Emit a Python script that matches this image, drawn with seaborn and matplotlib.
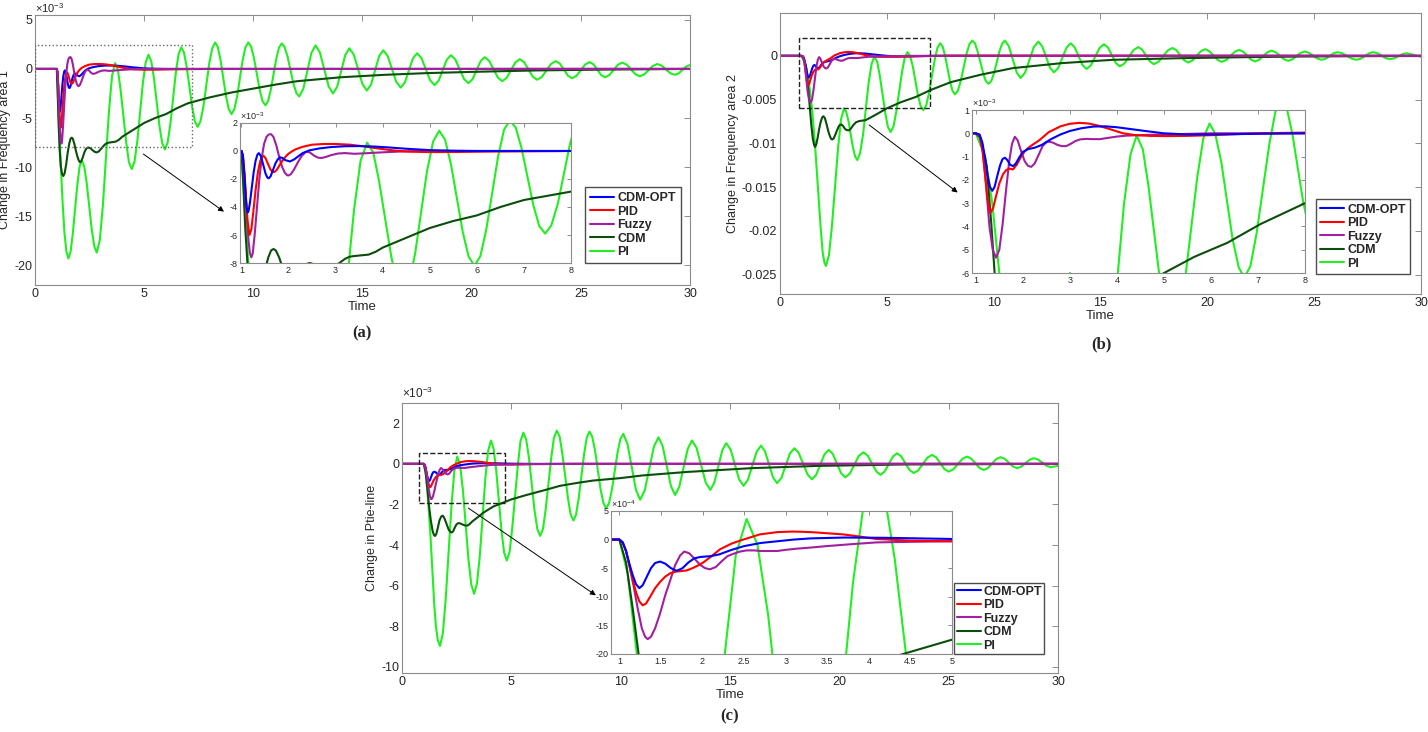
import matplotlib
matplotlib.use("Agg")
import matplotlib.pyplot as plt
from matplotlib.patches import Rectangle
from matplotlib.ticker import FuncFormatter
import seaborn as sns

# legend order
names = ['CDM-OPT', 'PID', 'Fuzzy', 'CDM', 'PI']

# ---------------- (a) change in frequency, area 1  (units 1e-3) ----------------
a_cdmopt_t = [0, 1.0, 1.03, 1.06, 1.09, 1.11, 1.13, 1.15, 1.18, 1.22, 1.26, 1.3, 1.34, 1.37, 1.41, 1.46, 1.51, 1.55, 1.58, 1.62,
              1.67, 1.72, 1.77, 1.82, 1.87, 1.93, 2.03, 2.12, 2.2, 2.3, 2.45, 2.65, 2.9, 3.2, 3.5, 3.8, 4.1, 4.5, 5.0, 5.5,
              6.0, 8.0, 30]
a_cdmopt_v = [0, 0, -0.3, -1.6, -3.2, -4.0, -4.4, -4.3, -3.7, -2.6, -1.5, -0.7, -0.25, -0.15, -0.35, -0.95, -1.6, -1.9, -1.95, -1.8,
              -1.35, -0.9, -0.6, -0.45, -0.5, -0.65, -0.75, -0.6, -0.4, -0.15, 0.05, 0.18, 0.28, 0.34, 0.35, 0.32, 0.26, 0.16, 0.06, 0.02,
              0, 0, 0]
a_pid_t = [0, 1.0, 1.03, 1.07, 1.1, 1.13, 1.17, 1.21, 1.25, 1.3, 1.35, 1.4, 1.44, 1.47, 1.51, 1.56, 1.62, 1.67, 1.7, 1.75,
           1.82, 1.9, 1.98, 2.06, 2.15, 2.3, 2.5, 2.75, 3.0, 3.3, 3.6, 3.9, 4.2, 4.5, 5.0, 5.6, 6.3, 8.0, 30]
a_pid_v = [0, 0, -0.3, -1.8, -3.6, -5.0, -6.0, -5.6, -4.4, -2.8, -1.5, -0.7, -0.4, -0.35, -0.5, -0.9, -1.35, -1.5, -1.5, -1.35,
           -0.95, -0.55, -0.25, -0.05, 0.12, 0.3, 0.45, 0.5, 0.5, 0.45, 0.33, 0.18, 0.05, -0.04, -0.08, -0.07, -0.04, 0, 0]
a_fuzzy_t = [0, 1.0, 1.03, 1.07, 1.11, 1.15, 1.18, 1.21, 1.24, 1.28, 1.33, 1.38, 1.43, 1.48, 1.53, 1.58, 1.63, 1.68, 1.74, 1.8,
             1.86, 1.92, 1.97, 2.0, 2.05, 2.12, 2.2, 2.28, 2.37, 2.45, 2.55, 2.63, 2.7, 2.8, 2.9, 3.05, 3.2, 3.4, 3.6, 3.8,
             4.1, 4.5, 5.0, 30]
a_fuzzy_v = [0, 0, -0.4, -2.2, -4.5, -6.4, -7.3, -7.6, -7.3, -6.0, -4.0, -2.0, -0.5, 0.5, 1.0, 1.18, 1.2, 1.0, 0.4, -0.4,
             -1.1, -1.55, -1.73, -1.75, -1.65, -1.3, -0.8, -0.35, -0.05, -0.1, -0.35, -0.48, -0.5, -0.42, -0.3, -0.18, -0.15, -0.2, -0.17, -0.13,
             -0.08, -0.02, 0, 0]
a_cdm_t = [0, 1.0, 1.04, 1.08, 1.13, 1.18, 1.24, 1.3, 1.36, 1.43, 1.5, 1.57, 1.63, 1.68, 1.73, 1.8, 1.87, 1.94, 2.0, 2.06,
           2.12, 2.19, 2.26, 2.35, 2.45, 2.55, 2.65, 2.74, 2.83, 2.92, 3.0, 3.1, 3.2, 3.3, 3.4, 3.55, 3.7, 3.85, 4.0, 4.25,
           4.5, 5.0, 5.5, 6.0, 6.5, 7.0, 7.5, 8.0, 9.0, 10.0, 11.0, 12.0, 14.0, 16.0, 18.0, 20.0, 23.0, 26.0, 30]
a_cdm_v = [0, 0, -2.5, -5.5, -8.2, -9.9, -10.7, -10.9, -10.6, -9.7, -8.5, -7.6, -7.1, -7.0, -7.1, -7.6, -8.3, -8.9, -9.3, -9.5,
           -9.4, -9.0, -8.5, -8.1, -8.0, -8.1, -8.3, -8.45, -8.5, -8.4, -8.2, -7.95, -7.7, -7.55, -7.5, -7.45, -7.4, -7.2, -6.9, -6.55,
           -6.2, -5.5, -5.0, -4.6, -4.0, -3.5, -3.2, -2.9, -2.4, -2.0, -1.6, -1.25, -0.85, -0.6, -0.42, -0.3, -0.15, -0.07, 0]
a_pi_t = [0, 1.0, 1.09, 1.18, 1.265, 1.35, 1.44, 1.53,
          1.63, 1.73, 1.835, 1.94, 2.04, 2.14,
          2.255, 2.37, 2.485, 2.6, 2.715, 2.83,
          2.97, 3.11, 3.25, 3.39, 3.53, 3.67,
          3.80, 3.92, 4.05, 4.18, 4.30, 4.43,
          4.56, 4.69, 4.815, 4.94, 5.07, 5.2,
          5.325, 5.45, 5.575, 5.7, 5.825, 5.95,
          6.075, 6.2, 6.325, 6.45, 6.575, 6.7,
          6.825, 6.95, 7.075, 7.2, 7.325, 7.45,
          7.58, 7.72, 7.85, 7.98, 8.12, 8.25,
          8.375, 8.5, 8.625, 8.75, 8.875, 9.0,
          9.13, 9.26, 9.385, 9.51, 9.64, 9.77,
          9.9, 10.03, 10.16, 10.29, 10.42, 10.55,
          10.675, 10.8, 10.925, 11.05, 11.175, 11.3,
          11.43, 11.57, 11.7, 11.83, 11.97, 12.1,
          12.29, 12.66, 12.85, 13.05, 13.45, 13.65, 13.84, 14.21, 14.4, 14.6, 15.0, 15.2,
          15.39, 15.76, 15.95, 16.15, 16.55, 16.75, 16.94, 17.31, 17.5, 17.7, 18.1, 18.3,
          18.49, 18.86, 19.05, 19.25, 19.65, 19.85, 20.04, 20.41, 20.6, 20.8, 21.2, 21.4,
          21.6, 22.0, 22.2, 22.4, 22.8, 23.0, 23.21, 23.64, 23.85, 24.04, 24.41, 24.6,
          24.8, 25.2, 25.4, 25.58, 25.93, 26.1, 26.3, 26.7, 26.9, 27.1, 27.5, 27.7,
          27.9, 28.3, 28.5, 28.7, 29.1, 29.3, 29.48, 29.83, 30.0]
a_pi_v = [0, 0, -5.0, -9.65, -13.6, -16.7, -18.6, -19.3,
          -18.63, -16.8, -14.3, -11.8, -9.97, -9.3,
          -9.93, -11.65, -14.0, -16.35, -18.07, -18.7,
          -17.41, -13.88, -9.05, -4.23, -0.69, 0.6,
          -0.12, -2.1, -4.8, -7.5, -9.48, -10.2,
          -9.42, -7.29, -4.38, -1.46, 0.67, 1.45,
          0.80, -0.96, -3.38, -5.79, -7.55, -8.2,
          -7.5, -5.6, -3.0, -0.4, 1.5, 2.2,
          1.66, 0.18, -1.85, -3.88, -5.36, -5.9,
          -5.32, -3.75, -1.6, 0.55, 2.12, 2.7,
          2.21, 0.88, -0.95, -2.78, -4.11, -4.6,
          -4.11, -2.78, -0.95, 0.88, 2.21, 2.7,
          2.27, 1.1, -0.5, -2.1, -3.27, -3.7,
          -3.28, -2.13, -0.55, 1.03, 2.18, 2.6,
          2.24, 1.25, -0.1, -1.45, -2.44, -2.8,
          -2.02, 1.62, 2.4, 1.67, -1.77, -2.5, -1.81, 1.41, 2.1, 1.46, -1.56, -2.2,
          -1.59, 1.29, 1.9, 1.33, -1.33, -1.9, -1.38, 1.08, 1.6, 1.11, -1.16, -1.65,
          -1.19, 0.94, 1.4, 0.97, -1.02, -1.45, -1.05, 0.8, 1.2, 0.83, -0.88, -1.25,
          -0.91, 0.66, 1.0, 0.69, -0.79, -1.1, -0.82, 0.52, 0.8, 0.54, -0.69, -0.95,
          -0.7, 0.45, 0.7, 0.47, -0.62, -0.85, -0.63, 0.43, 0.65, 0.44, -0.54, -0.75,
          -0.56, 0.31, 0.5, 0.34, -0.44, -0.6, -0.45, 0.25, 0.4]

# ---------------- (b) change in frequency, area 2  (units 1e-3) ----------------
b_cdmopt_t = [0, 1.0, 1.08, 1.14, 1.2, 1.25, 1.3, 1.35, 1.4, 1.46, 1.52, 1.57, 1.62, 1.67, 1.73, 1.79, 1.85, 1.92, 2.0, 2.11,
              2.25, 2.4, 2.6, 2.8, 3.0, 3.25, 3.5, 3.75, 4.0, 4.3, 4.6, 5.0, 5.5, 6.0, 7.0, 8.0, 30]
b_cdmopt_v = [0, 0, -0.05, -0.4, -1.1, -1.8, -2.3, -2.47, -2.3, -1.8, -1.35, -1.1, -1.05, -1.15, -1.35, -1.41, -1.3, -1.05, -0.8, -0.68,
              -0.62, -0.5, -0.25, -0.05, 0.1, 0.22, 0.29, 0.3, 0.26, 0.18, 0.1, 0.0, -0.05, -0.05, -0.02, 0, 0]
b_pid_t = [0, 1.0, 1.08, 1.14, 1.2, 1.25, 1.31, 1.37, 1.43, 1.5, 1.58, 1.65, 1.72, 1.79, 1.87, 1.95, 2.03, 2.1, 2.2, 2.35,
           2.55, 2.8, 3.0, 3.2, 3.4, 3.6, 3.85, 4.13, 4.4, 4.7, 5.05, 5.5, 6.0, 7.0, 8.0, 30]
b_pid_v = [0, 0, -0.1, -0.7, -1.8, -2.8, -3.42, -3.2, -2.7, -2.15, -1.75, -1.57, -1.52, -1.55, -1.35, -1.05, -0.8, -0.65, -0.5, -0.3,
           0.05, 0.3, 0.41, 0.45, 0.42, 0.33, 0.18, 0.0, -0.08, -0.11, -0.12, -0.11, -0.08, 0.0, 0.03, 0]
b_fuzzy_t = [0, 1.0, 1.08, 1.15, 1.22, 1.29, 1.36, 1.43, 1.5, 1.57, 1.64, 1.71, 1.77, 1.83, 1.89, 1.96, 2.04, 2.11, 2.18, 2.25,
             2.33, 2.42, 2.5, 2.56, 2.64, 2.74, 2.83, 2.92, 3.02, 3.12, 3.22, 3.35, 3.5, 3.64, 3.8, 4.0, 4.2, 4.6, 5.0, 6.0, 30]
b_fuzzy_v = [0, 0, -0.1, -0.8, -2.3, -4.0, -5.0, -5.34, -5.0, -3.9, -2.5, -1.2, -0.45, -0.15, -0.3, -0.75, -1.2, -1.4, -1.44, -1.3,
             -0.95, -0.55, -0.38, -0.36, -0.4, -0.5, -0.55, -0.55, -0.45, -0.33, -0.26, -0.24, -0.25, -0.25, -0.2, -0.14, -0.1, -0.07, -0.05, 0, 0]
b_cdm_t = [0, 1.0, 1.1, 1.23, 1.33, 1.4, 1.47, 1.54, 1.6, 1.64, 1.69, 1.76, 1.83, 1.9, 1.97, 2.03, 2.1, 2.18, 2.26, 2.34,
           2.4, 2.45, 2.51, 2.59, 2.67, 2.75, 2.82, 2.88, 2.95, 3.03, 3.1, 3.17, 3.24, 3.32, 3.42, 3.55, 3.7, 3.85, 4.0, 4.2,
           4.5, 5.0, 5.65, 6.35, 7.05, 8.0, 9.4, 10.9, 13.2, 15.6, 18.7, 21.8, 24.3, 27.0, 30]
b_cdm_v = [0, 0, -0.2, -1.4, -3.9, -6.0, -8.0, -9.5, -10.2, -10.4, -10.2, -9.4, -8.4, -7.6, -7.05, -6.9, -7.1, -7.8, -8.6, -9.2,
           -9.5, -9.55, -9.45, -9.0, -8.5, -8.05, -7.85, -7.85, -8.0, -8.3, -8.45, -8.5, -8.5, -8.3, -7.95, -7.6, -7.45, -7.4, -7.35, -7.1,
           -6.7, -6.0, -5.3, -4.7, -3.9, -3.0, -2.15, -1.4, -0.83, -0.45, -0.27, -0.15, -0.08, -0.04, -0.02]
b_pi_t = [0, 1.0, 1.2, 1.35, 1.5, 1.65, 1.8, 1.9, 2.0, 2.08, 2.15,
          2.29, 2.43, 2.575, 2.72, 2.86, 3.0,
          3.10, 3.21, 3.31, 3.41, 3.52, 3.62,
          3.75, 3.89, 4.02, 4.15, 4.29, 4.42,
          4.55, 4.67, 4.80, 4.93, 5.05, 5.18,
          5.31, 5.44, 5.575, 5.71, 5.84, 5.97,
          6.09, 6.22, 6.34, 6.46, 6.59, 6.71,
          6.84, 6.97, 7.105, 7.24, 7.37, 7.5,
          7.615, 7.73, 7.845, 7.96, 8.075, 8.19,
          8.325, 8.46, 8.595, 8.73, 8.865, 9.0,
          9.13, 9.25, 9.38, 9.51, 9.63, 9.76,
          9.89, 10.02, 10.145, 10.27, 10.4, 10.53,
          10.71, 11.08, 11.26, 11.47, 11.88, 12.09, 12.27, 12.64, 12.82,
          13.02, 13.41, 13.6, 13.79, 14.16, 14.35, 14.55, 14.96, 15.16, 15.35, 15.72, 15.9,
          16.12, 16.55, 16.77, 16.95, 17.32, 17.5, 17.72, 18.15, 18.37, 18.55, 18.92, 19.1,
          19.3, 19.7, 19.9, 20.09, 20.48, 20.67, 20.88, 21.29, 21.49, 21.68, 22.05, 22.23,
          22.42, 22.81, 23.0, 23.2, 23.59, 23.79, 23.98, 24.36, 24.55, 24.75, 25.15, 25.35,
          25.54, 25.91, 26.1, 26.32, 26.76, 26.98, 27.18, 27.57, 27.76, 27.96, 28.35, 28.55,
          28.75, 29.14, 29.33, 29.5, 30.0]
b_pi_v = [0, 0, -1.0, -3.0, -6.0, -10.5, -16.0, -19.5, -22.5, -23.6, -24.0,
          -22.8, -19.5, -15.0, -10.5, -7.2, -6.0,
          -6.4, -7.48, -8.95, -10.43, -11.5, -11.9,
          -11.11, -8.95, -6.0, -3.05, -0.89, -0.1,
          -0.68, -2.25, -4.4, -6.55, -8.12, -8.7,
          -8.09, -6.42, -4.14, -1.86, -0.19, 0.42,
          -0.02, -1.24, -2.89, -4.55, -5.76, -6.2,
          -5.69, -4.29, -2.38, -0.47, 0.93, 1.44,
          1.05, -0.02, -1.48, -2.94, -4.01, -4.4,
          -3.99, -2.87, -1.33, 0.21, 1.33, 1.74,
          1.41, 0.5, -0.73, -1.97, -2.87, -3.2,
          -2.87, -1.97, -0.73, 0.5, 1.41, 1.74,
          1.1, -1.9, -2.54, -1.91, 1.0, 1.63, 1.1, -1.36, -1.89,
          -1.39, 0.94, 1.44, 1.0, -1.06, -1.5, -1.08, 0.91, 1.33, 0.95, -0.83, -1.21,
          -0.88, 0.67, 1.0, 0.71, -0.66, -0.95, -0.67, 0.62, 0.9, 0.65, -0.51, -0.76,
          -0.53, 0.53, 0.76, 0.54, -0.46, -0.68, -0.48, 0.48, 0.68, 0.48, -0.44, -0.64,
          -0.45, 0.41, 0.6, 0.42, -0.39, -0.57, -0.41, 0.33, 0.49, 0.35, -0.31, -0.45,
          -0.32, 0.29, 0.42, 0.29, -0.32, -0.45, -0.32, 0.29, 0.42, 0.3, -0.26, -0.38,
          -0.28, 0.2, 0.3, 0.2, -0.1]

# ---------------- (c) change in tie-line power  (units 1e-3) ----------------
c_cdmopt_t = [0, 1.0, 1.04, 1.08, 1.12, 1.16, 1.2, 1.24, 1.28, 1.33, 1.38, 1.43, 1.49, 1.55, 1.62, 1.69, 1.76, 1.83, 1.9, 1.97,
              2.1, 2.2, 2.35, 2.5, 2.7, 2.9, 3.1, 3.3, 3.7, 4.2, 5.0, 6.0, 8.0, 30]
c_cdmopt_v = [0, 0, -0.05, -0.2, -0.42, -0.62, -0.78, -0.85, -0.8, -0.65, -0.5, -0.41, -0.385, -0.42, -0.5, -0.546, -0.5, -0.4, -0.33, -0.305,
              -0.29, -0.26, -0.18, -0.115, -0.06, -0.03, 0.0, 0.02, 0.035, 0.03, 0.01, 0, 0, 0]
c_pid_t = [0, 1.0, 1.04, 1.08, 1.12, 1.16, 1.2, 1.24, 1.28, 1.32, 1.37, 1.43, 1.49, 1.55, 1.61, 1.68, 1.75, 1.81, 1.88, 1.95,
           2.01, 2.1, 2.21, 2.35, 2.49, 2.69, 2.9, 3.09, 3.3, 3.5, 3.69, 3.9, 4.09, 4.5, 5.0, 6.0, 8.0, 30]
c_pid_v = [0, 0, -0.05, -0.2, -0.45, -0.7, -0.92, -1.08, -1.15, -1.12, -1.0, -0.85, -0.74, -0.65, -0.59, -0.56, -0.55, -0.54, -0.5, -0.45,
           -0.4, -0.3, -0.17, -0.07, 0.0, 0.09, 0.13, 0.14, 0.13, 0.11, 0.09, 0.05, 0.01, -0.02, -0.03, -0.01, 0, 0]
c_fuzzy_t = [0, 1.0, 1.04, 1.08, 1.12, 1.17, 1.22, 1.27, 1.31, 1.34, 1.38, 1.43, 1.49, 1.55, 1.61, 1.67, 1.73, 1.78, 1.84, 1.9,
             1.97, 2.03, 2.09, 2.16, 2.23, 2.3, 2.37, 2.45, 2.53, 2.62, 2.7, 2.8, 2.9, 3.0, 3.13, 3.3, 3.49, 3.8, 4.09, 4.5,
             5.0, 6.0, 8.0, 30]
c_fuzzy_v = [0, 0, -0.05, -0.2, -0.45, -0.8, -1.2, -1.55, -1.7, -1.74, -1.7, -1.55, -1.29, -0.98, -0.72, -0.45, -0.28, -0.21, -0.24, -0.33,
             -0.44, -0.5, -0.52, -0.48, -0.38, -0.29, -0.25, -0.21, -0.19, -0.19, -0.2, -0.2, -0.2, -0.18, -0.16, -0.14, -0.115, -0.08, -0.05, -0.04,
             -0.03, -0.01, 0, 0]
c_cdm_t = [0, 1.0, 1.08, 1.16, 1.24, 1.32, 1.4, 1.46, 1.51, 1.57, 1.64, 1.71, 1.79, 1.86, 1.93, 2.0, 2.07, 2.14, 2.21, 2.27,
           2.34, 2.41, 2.48, 2.55, 2.62, 2.7, 2.8, 2.9, 2.99, 3.08, 3.2, 3.34, 3.5, 3.7, 3.95, 4.18, 4.6, 5.0, 5.7, 6.5,
           7.23, 8.0, 8.75, 10.0, 11.0, 13.0, 16.0, 19.0, 23.0, 30]
c_cdm_v = [0, 0, -0.4, -1.2, -2.1, -2.8, -3.3, -3.5, -3.55, -3.45, -3.15, -2.8, -2.6, -2.55, -2.65, -2.85, -3.05, -3.25, -3.35, -3.38,
           -3.32, -3.15, -3.0, -2.93, -2.92, -2.95, -3.0, -3.04, -3.04, -2.98, -2.85, -2.73, -2.6, -2.42, -2.25, -2.1, -1.92, -1.75, -1.53, -1.3,
           -1.08, -0.94, -0.82, -0.7, -0.57, -0.4, -0.21, -0.1, -0.03, 0]
c_pi_t = [0, 1.0, 1.1, 1.21, 1.3, 1.4, 1.48, 1.55, 1.64, 1.74,
          1.87, 2.0, 2.135, 2.27, 2.40, 2.53,
          2.66, 2.79, 2.915, 3.04, 3.17, 3.3,
          3.43, 3.56, 3.685, 3.81, 3.94, 4.07,
          4.19, 4.31, 4.43, 4.55, 4.67, 4.79,
          4.92, 5.04, 5.17, 5.30, 5.42, 5.55,
          5.68, 5.81, 5.935, 6.06, 6.19, 6.32,
          6.45, 6.57, 6.70, 6.83, 6.95, 7.08,
          7.21, 7.33, 7.46, 7.59, 7.71, 7.84,
          7.96, 8.08, 8.205, 8.33, 8.45, 8.57,
          8.7, 8.83, 8.955, 9.08, 9.21, 9.34,
          9.47, 9.6, 9.73, 9.86, 9.99, 10.12,
          10.31, 10.7, 10.89, 11.1, 11.52, 11.73, 11.92, 12.3, 12.49,
          12.68, 13.07, 13.26, 13.47, 13.89, 14.1, 14.28, 14.65, 14.83, 15.03, 15.42, 15.62,
          15.82, 16.22, 16.42, 16.6, 16.97, 17.15, 17.35, 17.74, 17.94, 18.14, 18.55, 18.75,
          18.94, 19.32, 19.51, 19.7, 20.08, 20.27, 20.48, 20.89, 21.1, 21.3, 21.69, 21.88,
          22.07, 22.45, 22.64, 22.83, 23.21, 23.4, 23.61, 24.03, 24.24, 24.43, 24.81, 25.0,
          25.21, 25.63, 25.84, 26.03, 26.41, 26.6, 26.79, 27.18, 27.37, 27.56, 27.94, 28.13,
          28.32, 28.71, 28.9, 29.09, 29.47, 29.66, 30.0]
c_pi_v = [0, 0, -0.6, -2.0, -3.5, -5.5, -7.0, -8.0, -8.7, -8.97,
          -8.34, -6.64, -4.31, -1.97, -0.27, 0.36,
          -0.09, -1.33, -3.02, -4.71, -5.95, -6.4,
          -5.89, -4.51, -2.63, -0.74, 0.64, 1.15,
          0.75, -0.33, -1.81, -3.28, -4.36, -4.76,
          -4.34, -3.19, -1.61, -0.04, 1.12, 1.54,
          1.2, 0.27, -1.0, -2.28, -3.21, -3.55,
          -3.2, -2.25, -0.96, 0.34, 1.29, 1.64,
          1.34, 0.53, -0.58, -1.68, -2.49, -2.79,
          -2.5, -1.7, -0.6, 0.5, 1.3, 1.59,
          1.34, 0.65, -0.3, -1.24, -1.93, -2.18,
          -1.93, -1.27, -0.35, 0.57, 1.23, 1.48,
          0.99, -1.28, -1.77, -1.31, 0.85, 1.31, 0.88, -1.1, -1.53,
          -1.13, 0.75, 1.15, 0.79, -0.92, -1.28, -0.94, 0.68, 1.02, 0.7, -0.77, -1.08,
          -0.78, 0.6, 0.9, 0.62, -0.67, -0.95, -0.69, 0.51, 0.77, 0.54, -0.53, -0.76,
          -0.54, 0.47, 0.69, 0.49, -0.46, -0.66, -0.48, 0.39, 0.57, 0.4, -0.37, -0.54,
          -0.38, 0.36, 0.52, 0.37, -0.3, -0.45, -0.32, 0.31, 0.44, 0.32, -0.26, -0.38,
          -0.27, 0.25, 0.36, 0.26, -0.2, -0.3, -0.21, 0.24, 0.33, 0.25, -0.13, -0.21,
          -0.14, 0.21, 0.28, 0.21, -0.09, -0.16, -0.1]

# zoom windows [t0, t1, v0, v1] and arrows [t_from, v_from, t_to, v_to] in main-axis data
a_zoom = [0.0, 7.2, -8.0, 2.4]
a_arrow = [4.86, -8.5, 8.76, -14.7]
b_zoom = [0.9, 7.0, -6.0, 2.0]
b_arrow = [4.07, -7.7, 8.42, -15.8]
c_zoom = [0.8, 4.7, -1.92, 0.54]
c_arrow = [2.93, -2.1, 8.97, -6.55]

colors = {'CDM-OPT': '#0000ff', 'PID': '#ff0000', 'Fuzzy': '#a020a0', 'CDM': '#0b4d0b', 'PI': '#22ee22'}
BOX = '#8c8c8c'
INK = '#262626'

sns.set_style("white")
plt.rcParams['font.family'] = ['Liberation Sans', 'DejaVu Sans']
plt.rcParams['mathtext.fontset'] = 'custom'
plt.rcParams['mathtext.rm'] = 'Liberation Sans'
plt.rcParams['axes.unicode_minus'] = False


def box_axes(ax, size):
    for sp in ax.spines.values():
        sp.set_color(BOX)
        sp.set_linewidth(0.8)
    ax.tick_params(direction='in', top=True, right=True, length=4, width=0.7,
                   color=BOX, labelcolor=INK, labelsize=size, pad=2)


def plot_set(ax, data, order, scale=1.0):
    lines = {}
    for name in order:
        t, v = data[name]
        sns.lineplot(x=t, y=[y * scale for y in v], ax=ax, color=colors[name],
                     linewidth=1.5, estimator=None, legend=False)
        lines[name] = ax.lines[-1]
    return lines


def decorate_main(ax, lines, zoom, arrow, ls, ec, leg_anchor, leg_pad, text_pad):
    ax.add_patch(Rectangle((zoom[0], zoom[2]), zoom[1] - zoom[0], zoom[3] - zoom[2],
                           fill=False, ls=ls, ec=ec, lw=1.0, zorder=5))
    ax.annotate('', xy=(arrow[2], arrow[3]), xytext=(arrow[0], arrow[1]),
                arrowprops=dict(arrowstyle='-|>', color='k', lw=0.7, mutation_scale=8))
    ax.legend([lines[n] for n in names], names, loc='lower right', bbox_to_anchor=leg_anchor,
              prop={'weight': 'bold', 'size': 9}, frameon=True, fancybox=False,
              edgecolor='#4d4d4d', framealpha=1, labelspacing=0.12, handlelength=1.9,
              handletextpad=text_pad, borderpad=leg_pad, borderaxespad=0)


main_order = ['PI', 'CDM', 'CDM-OPT', 'PID', 'Fuzzy']
inset_order = ['PI', 'CDM', 'Fuzzy', 'PID', 'CDM-OPT']

data_a = {'CDM-OPT': (a_cdmopt_t, a_cdmopt_v), 'PID': (a_pid_t, a_pid_v), 'Fuzzy': (a_fuzzy_t, a_fuzzy_v),
          'CDM': (a_cdm_t, a_cdm_v), 'PI': (a_pi_t, a_pi_v)}
data_b = {'CDM-OPT': (b_cdmopt_t, b_cdmopt_v), 'PID': (b_pid_t, b_pid_v), 'Fuzzy': (b_fuzzy_t, b_fuzzy_v),
          'CDM': (b_cdm_t, b_cdm_v), 'PI': (b_pi_t, b_pi_v)}
data_c = {'CDM-OPT': (c_cdmopt_t, c_cdmopt_v), 'PID': (c_pid_t, c_pid_v), 'Fuzzy': (c_fuzzy_t, c_fuzzy_v),
          'CDM': (c_cdm_t, c_cdm_v), 'PI': (c_pi_t, c_pi_v)}

fig = plt.figure(figsize=(14.28, 7.32), dpi=100)
fig.patch.set_facecolor('white')
label_font = dict(fontsize=12, fontweight='bold', family='Liberation Serif', ha='center', va='center')

# ---------- panel (a) ----------
ax = fig.add_axes([0.0245, 0.6107, 0.4587, 0.3689])
lines = plot_set(ax, data_a, main_order)
box_axes(ax, 9)
ax.set_xlim(0, 30)
ax.set_ylim(-22, 5.5)
ax.set_xticks(range(0, 31, 5))
ax.set_yticks([-20, -15, -10, -5, 0, 5])
ax.set_xlabel('Time', fontsize=9.5, color=INK, labelpad=1)
ax.set_ylabel('Change in Frequency area 1', fontsize=9, color=INK)
ax.yaxis.set_label_coords(-0.036, 0.5)
ax.text(0, 1.0, '×10$^{-3}$', transform=ax.transAxes, fontsize=8, color=INK, va='bottom')
decorate_main(ax, lines, a_zoom, a_arrow, ':', '#666666', (0.986, 0.081), 0.4, 0.3)

axi = fig.add_axes([0.1681, 0.6407, 0.2318, 0.1913])
plot_set(axi, data_a, inset_order)
box_axes(axi, 6.5)
axi.set_xlim(0.97, 8)
axi.set_ylim(-8, 2)
axi.set_xticks(range(1, 9))
axi.set_yticks([-8, -6, -4, -2, 0, 2])
axi.tick_params(length=3, pad=2)
axi.text(0, 1.004, '×10$^{-3}$', transform=axi.transAxes, fontsize=6.5, color=INK, va='bottom')
fig.text(362 / 1428, 1 - 333 / 732, '(a)', **label_font)

# ---------- panel (b) ----------
ax = fig.add_axes([0.5462, 0.5984, 0.4489, 0.3839])
lines = plot_set(ax, data_b, main_order)
box_axes(ax, 9)
ax.set_xlim(0, 30)
ax.set_ylim(-27.2, 4.9)
ax.set_xticks(range(0, 31, 5))
ax.set_yticks([-25, -20, -15, -10, -5, 0])
ax.yaxis.set_major_formatter(FuncFormatter(lambda v, p: f'{v * 1e-3:g}'))
ax.set_xlabel('Time', fontsize=9.5, color=INK, labelpad=1)
ax.set_ylabel('Change in Frequency area 2', fontsize=9, color=INK)
ax.yaxis.set_label_coords(-0.064, 0.5)
decorate_main(ax, lines, b_zoom, b_arrow, '--', '#222222', (0.983, 0.071), 0.35, 0.25)

axi = fig.add_axes([0.6807, 0.6270, 0.2332, 0.2227])
plot_set(axi, data_b, inset_order)
box_axes(axi, 6.5)
axi.set_xlim(0.92, 8)
axi.set_ylim(-6, 1)
axi.set_xticks(range(1, 9))
axi.set_yticks([-6, -5, -4, -3, -2, -1, 0, 1])
axi.tick_params(length=3, pad=2)
axi.text(0, 1.004, '×10$^{-3}$', transform=axi.transAxes, fontsize=6.5, color=INK, va='bottom')
fig.text(1101 / 1428, 1 - 344 / 732, '(b)', **label_font)

# ---------- panel (c) ----------
ax = fig.add_axes([0.2815, 0.0806, 0.4594, 0.3689])
lines = plot_set(ax, data_c, main_order)
box_axes(ax, 9)
ax.set_xlim(0, 30)
ax.set_ylim(-10.3, 3.0)
ax.set_xticks(range(0, 31, 5))
ax.set_yticks([-10, -8, -6, -4, -2, 0, 2])
ax.set_xlabel('Time', fontsize=9.5, color=INK, labelpad=1)
ax.set_ylabel('Change in Ptie-line', fontsize=9, color=INK)
ax.yaxis.set_label_coords(-0.037, 0.5)
ax.text(0, 1.008, '×10$^{-3}$', transform=ax.transAxes, fontsize=8.5, color=INK, va='bottom')
decorate_main(ax, lines, c_zoom, c_arrow, '--', '#222222', (0.979, 0.070), 0.2, 0.2)

# inset of (c) is drawn in units of 1e-4
axi = fig.add_axes([0.4279, 0.1066, 0.2388, 0.1954])
plot_set(axi, data_c, inset_order, scale=10.0)
box_axes(axi, 6.5)
axi.set_xlim(0.9, 5)
axi.set_ylim(-20, 5)
axi.set_xticks([1, 1.5, 2, 2.5, 3, 3.5, 4, 4.5, 5])
axi.xaxis.set_major_formatter(FuncFormatter(lambda v, p: f'{v:g}'))
axi.set_yticks([-20, -15, -10, -5, 0, 5])
axi.tick_params(length=3, pad=2)
axi.text(0, 1.004, '×10$^{-4}$', transform=axi.transAxes, fontsize=6.5, color=INK, va='bottom')
fig.text(730 / 1428, 1 - 716 / 732, '(c)', **label_font)

fig.savefig('out.png', dpi=100, facecolor='white')
